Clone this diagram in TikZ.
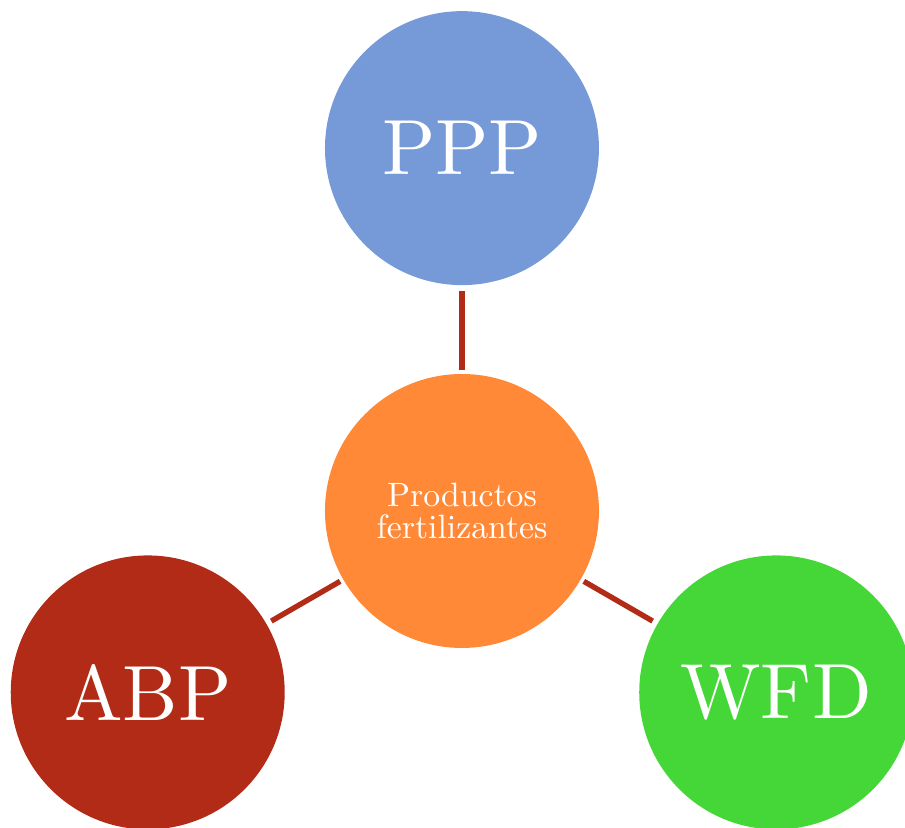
\documentclass[tikz,border=0pt]{standalone}

\definecolor{pppblue}{RGB}{118,153,216}
\definecolor{prodorange}{RGB}{255,137,54}
\definecolor{abpred}{RGB}{178,43,22}
\definecolor{wfdgreen}{RGB}{69,215,56}
\newcommand{\bigname}[1]{\scalebox{2.32}{#1}}

\begin{document}
\begin{tikzpicture}[
    concept/.style={circle, minimum size=2.854cm, inner sep=0pt, text=white},
    link/.style={line width=1.6pt, abpred, shorten <=0.9pt, shorten >=1.5pt}]
    \useasboundingbox (-4.8125,-3.302) rectangle (4.615,5.323);
	% center and the three satellites
	\node[concept, fill=prodorange, align=center, font=\fontsize{10}{9.6}\selectfont] (prod) at (0,0) {Productos\\fertilizantes};
	\node[concept, fill=pppblue] (ppp) at (90:3.78) {\bigname{PPP}};
	\node[concept, fill=abpred] (abp) at (210:3.78) {\bigname{ABP}};
	\node[concept, fill=wfdgreen] (wfd) at (330:3.78) {\bigname{WFD}};
	\draw[link] (prod) -- (ppp);
	\draw[link] (prod) -- (abp);
	\draw[link] (prod) -- (wfd);
\end{tikzpicture}
\end{document}
